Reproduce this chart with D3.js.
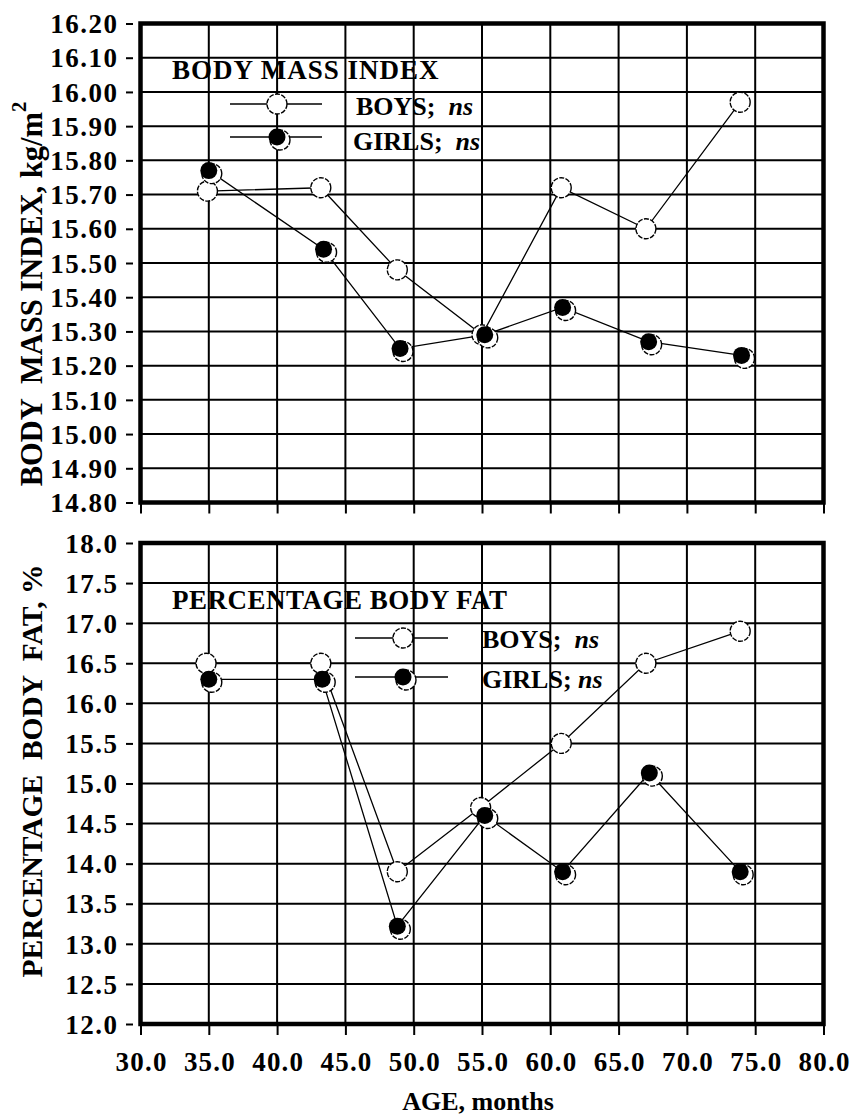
<!DOCTYPE html>
<html>
<head>
<meta charset="utf-8">
<script src="https://cdn.jsdelivr.net/npm/d3@7"></script>
<style>
  html, body { margin: 0; padding: 0; background: #fff; }
  svg { display: block; }
  text { font-family: "Liberation Serif", "Times New Roman", serif; font-weight: bold; fill: #000; white-space: pre; }
</style>
</head>
<body>
<svg id="chart" width="852" height="1115"></svg>
<script>
// Age axis (months)
const ageTicks = [30, 35, 40, 45, 50, 55, 60, 65, 70, 75, 80];
const ageTickLabels = ageTicks.map(d => d.toFixed(1));

// Body mass index panel
const bmiTicks = [14.8, 14.9, 15.0, 15.1, 15.2, 15.3, 15.4, 15.5, 15.6, 15.7, 15.8, 15.9, 16.0, 16.1, 16.2];
const bmiTickLabels = bmiTicks.map(d => d.toFixed(2));
const bmiBoysAge  = [34.9, 43.2, 48.8, 55.0, 60.8, 67.0, 73.9];
const bmiBoys     = [15.71, 15.72, 15.48, 15.29, 15.72, 15.60, 15.97];
const bmiGirlsAge = [35.0, 43.4, 49.0, 55.2, 60.9, 67.2, 74.0];
const bmiGirls    = [15.77, 15.54, 15.25, 15.29, 15.37, 15.27, 15.23];

// Percentage body fat panel
const fatTicks = [12.0, 12.5, 13.0, 13.5, 14.0, 14.5, 15.0, 15.5, 16.0, 16.5, 17.0, 17.5, 18.0];
const fatTickLabels = fatTicks.map(d => d.toFixed(1));
const fatBoysAge  = [34.8, 43.2, 48.8, 54.9, 60.8, 67.0, 73.9];
const fatBoys     = [16.5, 16.5, 13.9, 14.7, 15.5, 16.5, 16.9];
const fatGirlsAge = [35.0, 43.3, 48.8, 55.2, 60.9, 67.25, 73.9];
const fatGirls    = [16.3, 16.3, 13.22, 14.6, 13.9, 15.13, 13.9];

const svg = d3.select("#chart");
const x = d3.scaleLinear().domain([30, 80]).range([140.5, 823.5]);

function openMarker(g, cx, cy) {
  g.append("circle").attr("cx", cx).attr("cy", cy).attr("r", 10)
    .attr("fill", "#fff").attr("stroke", "#000").attr("stroke-width", 1.4)
    .attr("stroke-dasharray", "5 1.4");
}
function filledMarker(g, cx, cy) {
  g.append("circle").attr("cx", cx + 3).attr("cy", cy + 3).attr("r", 10)
    .attr("fill", "#fff").attr("stroke", "#000").attr("stroke-width", 1.4)
    .attr("stroke-dasharray", "5 1.4");
  g.append("circle").attr("cx", cx).attr("cy", cy).attr("r", 8.5).attr("fill", "#000");
}

function panel(opts) {
  const y = d3.scaleLinear().domain(opts.domain).range([opts.bottom, opts.top]);
  const g = svg.append("g");

  // grid
  g.append("g").selectAll("line").data(opts.yTicks).join("line")
    .attr("x1", x(30)).attr("x2", x(80)).attr("y1", d => y(d)).attr("y2", d => y(d))
    .attr("stroke", "#000").attr("stroke-width", 2);
  g.append("g").selectAll("line").data(ageTicks).join("line")
    .attr("x1", d => x(d)).attr("x2", d => x(d)).attr("y1", opts.top).attr("y2", opts.bottom)
    .attr("stroke", "#000").attr("stroke-width", 2);

  // left axis, detached from the frame
  const yAxis = d3.axisLeft(y).tickValues(opts.yTicks)
    .tickFormat((d, i) => opts.yLabels[i]).tickSize(7).tickPadding(7.5).tickSizeOuter(0);
  const ya = g.append("g").attr("transform", "translate(133,0)").call(yAxis);
  ya.select(".domain").remove();
  ya.selectAll(".tick line").attr("stroke", "#000").attr("stroke-width", 2);
  ya.selectAll(".tick text").attr("font-size", 27).attr("dy", "0.34em")
    .style("letter-spacing", "1.5px")
    .style("font-family", "'Liberation Serif', 'Times New Roman', serif").style("font-weight", "bold");

  // bottom axis
  const xAxis = d3.axisBottom(x).tickValues(ageTicks)
    .tickFormat((d, i) => opts.showX ? ageTickLabels[i] : "").tickSize(10).tickPadding(17).tickSizeOuter(0);
  const xa = g.append("g").attr("transform", `translate(0,${opts.bottom + 1})`).call(xAxis);
  xa.select(".domain").remove();
  xa.selectAll(".tick line").attr("stroke", "#000").attr("stroke-width", 2);
  xa.selectAll(".tick text").attr("font-size", 27).attr("dx", "0.6px")
    .style("letter-spacing", "1.2px")
    .style("font-family", "'Liberation Serif', 'Times New Roman', serif").style("font-weight", "bold");

  // frame
  g.append("rect").attr("x", x(30)).attr("y", opts.top)
    .attr("width", x(80) - x(30)).attr("height", opts.bottom - opts.top)
    .attr("fill", "none").attr("stroke", "#000").attr("stroke-width", 4.5);

  // series
  const line = d3.line().x(d => x(d[0])).y(d => y(d[1]));
  const boys = d3.zip(opts.boysAge, opts.boys);
  const girls = d3.zip(opts.girlsAge, opts.girls);
  g.append("path").datum(boys).attr("d", line).attr("fill", "none").attr("stroke", "#000").attr("stroke-width", 1.3);
  g.append("path").datum(girls).attr("d", line).attr("fill", "none").attr("stroke", "#000").attr("stroke-width", 1.3);
  const mg = g.append("g");
  boys.forEach(d => openMarker(mg, x(d[0]), y(d[1])));
  girls.forEach(d => filledMarker(mg, x(d[0]), y(d[1])));

  // title
  g.append("text").attr("x", 172).attr("y", opts.titleY).attr("font-size", 27)
    .style("letter-spacing", opts.titleSpacing).text(opts.title);

  // legend
  const L = opts.legend;
  [[L.boysY, "BOYS;  ", L.boysTextY, L.boysTextX, false], [L.girlsY, opts.girlsSep, L.girlsTextY, L.girlsTextX, true]]
    .forEach(([ly, lab, ty, tx, filled]) => {
      g.append("line").attr("x1", L.x1).attr("x2", L.x2).attr("y1", ly).attr("y2", ly)
        .attr("stroke", "#000").attr("stroke-width", 1.6);
      if (filled) filledMarker(g, L.mx, ly); else openMarker(g, L.mx, ly);
      const t = g.append("text").attr("x", tx).attr("y", ty).attr("font-size", 26);
      t.append("tspan").text(lab);
      t.append("tspan").attr("font-style", "italic").text("ns");
    });

  // y title
  const yt = svg.append("text").attr("font-size", opts.yTitleSize).attr("text-anchor", "middle")
    .attr("transform", `translate(42,${opts.yTitleY}) rotate(-90)`);
  yt.append("tspan").text(opts.yTitle);
  if (opts.yTitleSup) {
    yt.append("tspan").attr("font-size", opts.yTitleSize * 0.68).attr("dy", "-0.75em").text(opts.yTitleSup);
  }
  return y;
}

panel({
  domain: [14.8, 16.2], top: 23.5, bottom: 502.5,
  yTicks: bmiTicks, yLabels: bmiTickLabels, showX: false,
  boysAge: bmiBoysAge, boys: bmiBoys, girlsAge: bmiGirlsAge, girls: bmiGirls,
  title: "BODY MASS INDEX", titleY: 79, titleSpacing: "1px",
  girlsSep: "GIRLS;  ",
  legend: { x1: 230, x2: 322, mx: 277, boysY: 104, girlsY: 137,
            boysTextX: 356, boysTextY: 115, girlsTextX: 353, girlsTextY: 150 },
  yTitle: "BODY  MASS INDEX, kg/m", yTitleSup: "2", yTitleSize: 30.5, yTitleY: 294
});

panel({
  domain: [12, 18], top: 543, bottom: 1024,
  yTicks: fatTicks, yLabels: fatTickLabels, showX: true,
  boysAge: fatBoysAge, boys: fatBoys, girlsAge: fatGirlsAge, girls: fatGirls,
  title: "PERCENTAGE BODY FAT", titleY: 609, titleSpacing: "0.5px",
  girlsSep: "GIRLS; ",
  legend: { x1: 355, x2: 448, mx: 403, boysY: 638, girlsY: 677,
            boysTextX: 482, boysTextY: 648, girlsTextX: 482, girlsTextY: 688 },
  yTitle: "PERCENTAGE  BODY  FAT, %", yTitleSup: null, yTitleSize: 29.5, yTitleY: 771
});

// x title
svg.append("text").attr("x", 478).attr("y", 1110).attr("font-size", 26)
  .attr("text-anchor", "middle").text("AGE, months");
</script>
</body>
</html>
